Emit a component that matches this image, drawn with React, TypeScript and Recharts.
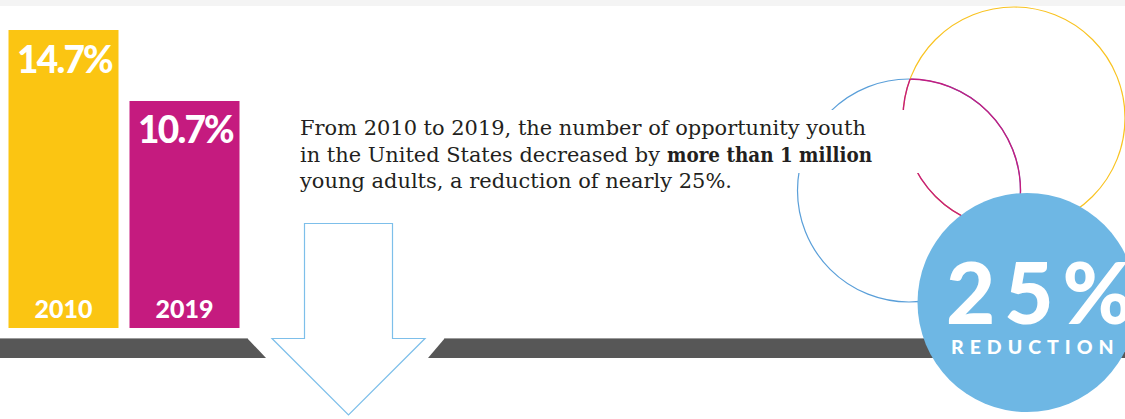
import React from 'react';
import { BarChart, Bar, XAxis, YAxis, Cell, LabelList } from 'recharts';

const CATEGORIES = ['2010', '2019'];
const RATES = [14.7, 10.7];
const RATE_LABELS = ['14.7%', '10.7%'];
const BAR_COLORS = ['#FBC512', '#C51B7F'];
const AXIS_FLOOR = -2.1;
const AXIS_TOP = 14.7;

const LINE_1 = 'From 2010 to 2019, the number of opportunity youth';
const LINE_2A = 'in the United States decreased by';
const LINE_2B = 'more than 1 million';
const LINE_3 = 'young adults, a reduction of nearly 25%.';
const BADGE_VALUE = '25%';
const BADGE_LABEL = 'REDUCTION';

const data = CATEGORIES.map((c, i) => ({ year: c, rate: RATES[i], label: RATE_LABELS[i] }));

const W = 1125;
const H = 419;
const SANS = "Lato, 'Open Sans', sans-serif";
const SERIF = "'DejaVu Serif', serif";
const TXT = '#231f20';

const TopLabel = (props: any) => {
  const { x, y, width, value } = props;
  return (
    <text x={x + width / 2 + 1} y={y + 42.5} textAnchor="middle" fill="#fff"
      style={{ fontFamily: SANS, fontWeight: 900, fontSize: 37, letterSpacing: -1.8 }}>
      {value}
    </text>
  );
};

const BottomLabel = (props: any) => {
  const { x, y, width, height, value } = props;
  return (
    <text x={x + width / 2} y={y + height - 10} textAnchor="middle" fill="#fff"
      style={{ fontFamily: SANS, fontWeight: 900, fontSize: 25 }}>
      {value}
    </text>
  );
};

const Background = () => (
  <svg width={W} height={H} style={{ position: 'absolute', left: 0, top: 0 }}>
    <defs>
      <clipPath id="inYellow">
        <circle cx={1014} cy={118} r={111} />
      </clipPath>
      <clipPath id="inBlue">
        <circle cx={909} cy={190.5} r={111.5} />
      </clipPath>
    </defs>
    <rect x={0} y={0} width={W} height={6} fill="#f4f4f4" />
    {/* band */}
    <polygon points="0,338 247,338 266,358 0,358" fill="#575757" />
    <polygon points="445,338 1125,338 1125,358 428,358" fill="#575757" />
    <line x1={0} y1={338.5} x2={247.5} y2={338.5} stroke="#9a9a9a" strokeWidth={1} />
    <line x1={444.5} y1={338.5} x2={1125} y2={338.5} stroke="#9a9a9a" strokeWidth={1} />
    {/* arrow */}
    <path d="M304.5,223.5 H392.5 V338.5 H425 L348.5,415 L272,338.5 H304.5 Z"
      fill="#fff" stroke="#7dbfea" strokeWidth={1.2} />
    {/* thin circles */}
    <circle cx={909} cy={190.5} r={111.5} fill="none" stroke="#5a9fd9" strokeWidth={1.2} />
    <circle cx={1014} cy={118} r={111} fill="none" stroke="#F9C321" strokeWidth={1.2} />
    <circle cx={909} cy={190.5} r={111.5} fill="none" stroke="#C51B7F" strokeWidth={1.4} clipPath="url(#inYellow)" />
    <circle cx={1014} cy={118} r={111} fill="none" stroke="#C51B7F" strokeWidth={1.4} clipPath="url(#inBlue)" />
    {/* text backdrop */}
    <rect x={290} y={110} width={635} height={63} fill="#fff" />
    {/* paragraph */}
    <g fill={TXT} style={{ fontFamily: SERIF, fontSize: 20 }}>
      <text x={300} y={135.3} textLength={566} lengthAdjust="spacingAndGlyphs">{LINE_1}</text>
      <text x={300} y={161.5} textLength={360} lengthAdjust="spacingAndGlyphs">{LINE_2A}</text>
      <text x={667} y={161.5} fontWeight={700} textLength={205} lengthAdjust="spacingAndGlyphs">{LINE_2B}</text>
      <text x={300} y={187.5} textLength={432} lengthAdjust="spacingAndGlyphs">{LINE_3}</text>
    </g>
    {/* badge */}
    <circle cx={1027} cy={302.5} r={109.5} fill="#6EB7E4" />
    <text x={946} y={324} fill="#fff" style={{ fontFamily: SANS, fontWeight: 900, fontSize: 85, letterSpacing: 9 }}>
      {BADGE_VALUE}
    </text>
    <text x={951} y={353.5} fill="#fff"
      style={{ fontFamily: SANS, fontWeight: 900, fontSize: 19.5, letterSpacing: 6 }}>
      {BADGE_LABEL}
    </text>
  </svg>
);

export default function App() {
  return (
    <div style={{ position: 'absolute', left: 0, top: 0, width: W, height: H, background: '#fff', overflow: 'hidden' }}>
      <Background />
      <div style={{ position: 'absolute', left: 0, top: 0 }}>
        <BarChart width={W} height={H} data={data}
          margin={{ top: 30, bottom: H - 328, left: 2.5, right: W - 244.5 }}>
          <XAxis dataKey="year" hide />
          <YAxis type="number" hide domain={[AXIS_FLOOR, AXIS_TOP]} allowDataOverflow />
          <Bar dataKey={(d: any) => [AXIS_FLOOR, d.rate]} barSize={110} isAnimationActive={false}>
            {data.map((d, i) => (
              <Cell key={d.year} fill={BAR_COLORS[i]} />
            ))}
            <LabelList dataKey="label" content={TopLabel} />
            <LabelList dataKey="year" content={BottomLabel} />
          </Bar>
        </BarChart>
      </div>
    </div>
  );
}
